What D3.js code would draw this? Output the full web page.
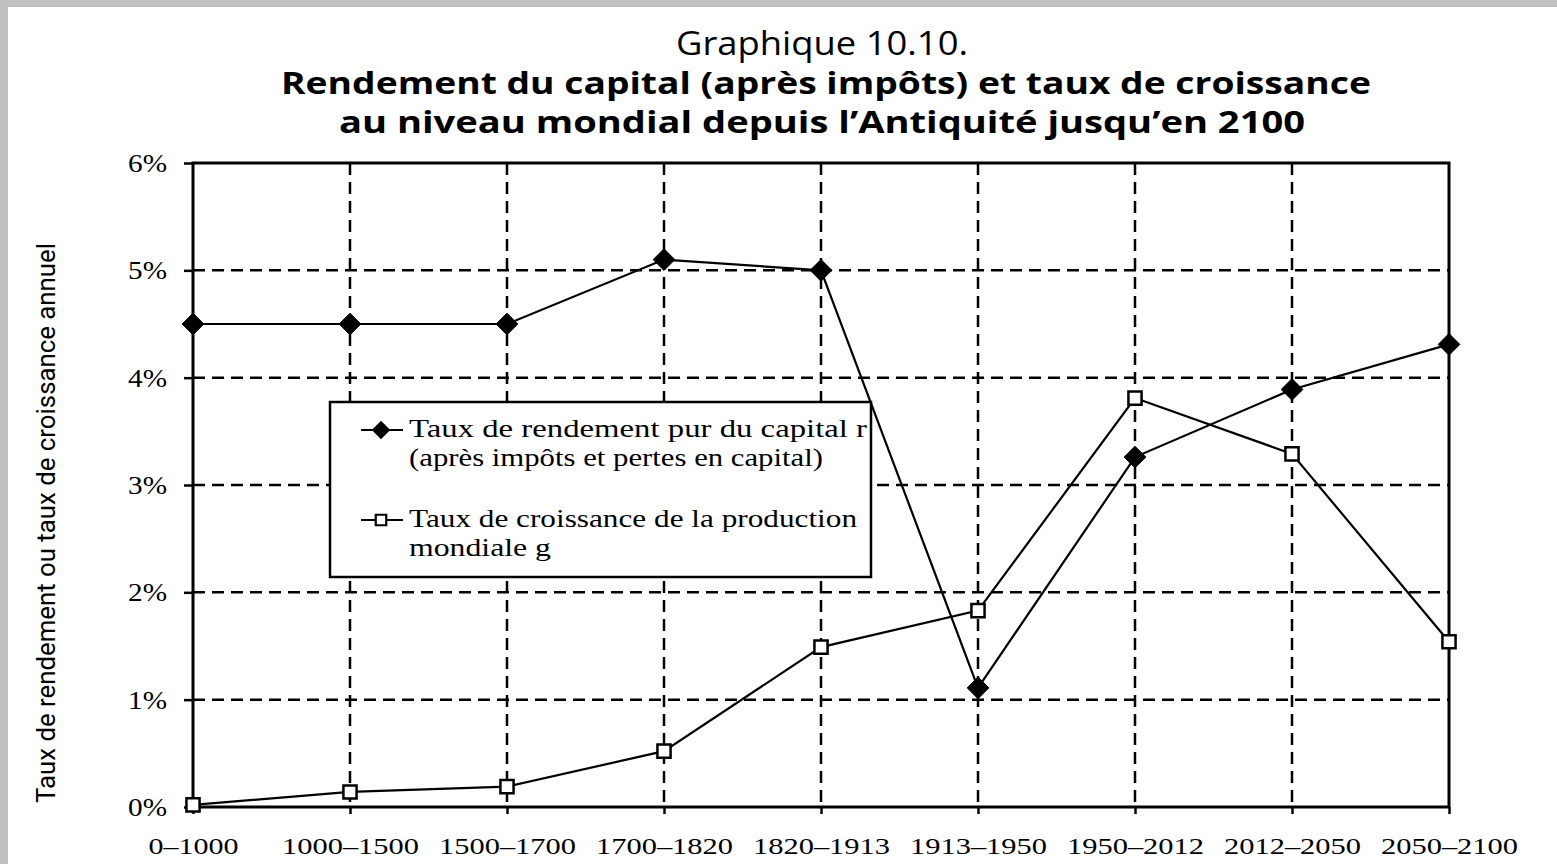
<!DOCTYPE html>
<html>
<head>
<meta charset="UTF-8">
<title>Graphique 10.10</title>
<script src="https://d3js.org/d3.v7.min.js"></script>
<style>
  html, body { margin: 0; padding: 0; background: #c0c0c0; }
  svg { display: block; }
</style>
</head>
<body>
<svg id="chart"></svg>
<script>
// data
const periods = ["0–1000", "1000–1500", "1500–1700", "1700–1820", "1820–1913",
                 "1913–1950", "1950–2012", "2012–2050", "2050–2100"];
const rateR = [4.5, 4.5, 4.5, 5.1, 5.0, 1.11, 3.26, 3.89, 4.31];
const growthG = [0.02, 0.14, 0.19, 0.52, 1.49, 1.83, 3.81, 3.29, 1.54];
const yTicks = [0, 1, 2, 3, 4, 5, 6];
const legendR = ["Taux de rendement pur du capital r", "(après impôts et pertes en capital)"];
const legendG = ["Taux de croissance de la production", "mondiale g"];

const W = 1557, H = 864;
const svg = d3.select("#chart").attr("width", W).attr("height", H);

// page (white sheet on grey scan border)
svg.append("rect").attr("x", 8).attr("y", 7).attr("width", W - 8).attr("height", H - 7)
  .attr("fill", "#fff");

const x = d3.scalePoint().domain(periods).range([193, 1449]);
const y = d3.scaleLinear().domain([0, 6]).range([807, 163]);

// titles
const sans = "'Open Sans', 'Noto Sans', sans-serif";
const serif = "'Liberation Serif', 'DejaVu Serif', serif";
svg.append("text").attr("x", 822).attr("y", 55).attr("text-anchor", "middle")
  .attr("font-family", sans).attr("font-size", 32)
  .attr("textLength", 292).attr("lengthAdjust", "spacingAndGlyphs")
  .text("Graphique 10.10.");
svg.append("text").attr("x", 826).attr("y", 94).attr("text-anchor", "middle")
  .attr("font-family", sans).attr("font-size", 31).attr("font-weight", "bold")
  .attr("textLength", 1090).attr("lengthAdjust", "spacingAndGlyphs")
  .text("Rendement du capital (après impôts) et taux de croissance");
svg.append("text").attr("x", 822).attr("y", 133).attr("text-anchor", "middle")
  .attr("font-family", sans).attr("font-size", 31).attr("font-weight", "bold")
  .attr("textLength", 966).attr("lengthAdjust", "spacingAndGlyphs")
  .text("au niveau mondial depuis l’Antiquité jusqu’en 2100");

// y axis title
svg.append("text")
  .attr("transform", "translate(55,523) rotate(-90)")
  .attr("text-anchor", "middle")
  .attr("font-family", "'Liberation Sans Narrow', 'Roboto', sans-serif")
  .attr("font-size", 25)
  .attr("textLength", 560).attr("lengthAdjust", "spacingAndGlyphs")
  .text("Taux de rendement ou taux de croissance annuel");

const plot = svg.append("g");
const dash = "12,7";

// horizontal dashed grid
plot.selectAll(".hgrid").data(yTicks.filter(d => d > 0 && d < 6)).join("line")
  .attr("x1", x(periods[0])).attr("x2", x(periods[periods.length - 1]))
  .attr("y1", d => y(d)).attr("y2", d => y(d))
  .attr("stroke", "#000").attr("stroke-width", 2.5).attr("stroke-dasharray", dash);

// vertical dashed grid
plot.selectAll(".vgrid").data(periods.slice(1, -1)).join("line")
  .attr("x1", d => x(d)).attr("x2", d => x(d))
  .attr("y1", y(6)).attr("y2", y(0))
  .attr("stroke", "#000").attr("stroke-width", 2.5).attr("stroke-dasharray", dash);

// frame
plot.append("rect")
  .attr("x", x(periods[0])).attr("y", y(6))
  .attr("width", x(periods[periods.length - 1]) - x(periods[0]))
  .attr("height", y(0) - y(6))
  .attr("fill", "none").attr("stroke", "#000").attr("stroke-width", 3);

// axes with d3
const yAxis = d3.axisLeft(y).tickValues(yTicks).tickFormat(d => d + "%")
  .tickSize(9).tickPadding(17);
const ya = svg.append("g").attr("transform", `translate(${x(periods[0])},0)`).call(yAxis);
ya.select(".domain").remove();
ya.selectAll("line").attr("stroke-width", 2.5);
ya.selectAll("text").attr("font-family", serif).attr("font-size", 25).attr("fill", "#000")
  .attr("dy", "0.34em")
  .attr("textLength", 39).attr("lengthAdjust", "spacingAndGlyphs");

const xAxis = d3.axisBottom(x).tickSize(7).tickPadding(6);
const xa = svg.append("g").attr("transform", `translate(0,${y(0)})`).call(xAxis);
xa.select(".domain").remove();
xa.selectAll("line").attr("stroke-width", 2.5);
xa.selectAll("text").attr("font-family", serif).attr("font-size", 24).attr("fill", "#000")
  .attr("dy", "1.4em")
  .attr("textLength", d => d.length === 6 ? 90 : 137)
  .attr("lengthAdjust", "spacingAndGlyphs");

// legend
const lg = svg.append("g");
lg.append("rect").attr("x", 330).attr("y", 402).attr("width", 541).attr("height", 175)
  .attr("fill", "#fff").attr("stroke", "#000").attr("stroke-width", 2.5);

const diamond = d3.symbol().type(d3.symbolDiamond2).size(150);
const square = d3.symbol().type(d3.symbolSquare2).size(140);

const legendWidths = [[458, 414], [448, 142]];
function legendEntry(yy, lines, sym, fill, widths) {
  lg.append("line").attr("x1", 361).attr("x2", 403).attr("y1", yy).attr("y2", yy)
    .attr("stroke", "#000").attr("stroke-width", 2);
  lg.append("path").attr("d", sym).attr("transform", `translate(381,${yy})`)
    .attr("fill", fill).attr("stroke", "#000").attr("stroke-width", 2.2);
  lines.forEach((t, i) => {
    lg.append("text").attr("x", 409).attr("y", yy + 7 + i * 29)
      .attr("font-family", serif).attr("font-size", 26)
      .attr("textLength", widths[i]).attr("lengthAdjust", "spacingAndGlyphs")
      .text(t);
  });
}
legendEntry(430, legendR, diamond(), "#000", legendWidths[0]);
legendEntry(520, legendG, square(), "#fff", legendWidths[1]);

// series
const line = d3.line().x((d, i) => x(periods[i])).y(d => y(d));

svg.append("path").datum(growthG).attr("d", line)
  .attr("fill", "none").attr("stroke", "#000").attr("stroke-width", 2.2);
svg.append("path").datum(rateR).attr("d", line)
  .attr("fill", "none").attr("stroke", "#000").attr("stroke-width", 2.2);

svg.selectAll(".mr").data(rateR).join("path")
  .attr("d", d3.symbol().type(d3.symbolDiamond2).size(300))
  .attr("transform", (d, i) => `translate(${x(periods[i])},${y(d)})`)
  .attr("fill", "#000").attr("stroke", "#000").attr("stroke-width", 1);

svg.selectAll(".mg").data(growthG).join("path")
  .attr("d", d3.symbol().type(d3.symbolSquare2).size(220))
  .attr("transform", (d, i) => `translate(${x(periods[i])},${y(d)})`)
  .attr("fill", "#fff").attr("stroke", "#000").attr("stroke-width", 2.5);
</script>
</body>
</html>
